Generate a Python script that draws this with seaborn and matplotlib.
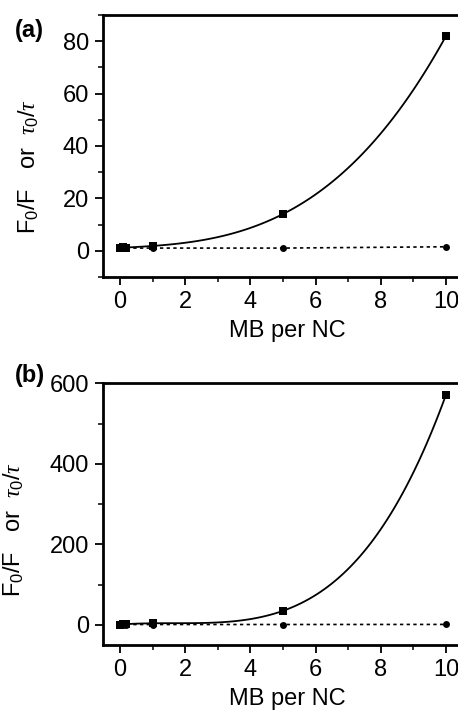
import matplotlib
matplotlib.use("Agg")
import matplotlib.pyplot as plt
import numpy as np
import seaborn as sns
from matplotlib.ticker import MultipleLocator

# --- data ---
mb_per_nc = [0, 0.1, 0.2, 1, 5, 10]

# panel (a): F0/F (squares, fitted line) and tau0/tau (circles, dotted)
a_f0f = [1.0, 1.3, 1.2, 1.8, 14.0, 82.0]
a_tau = [1.0, 1.0, 1.0, 1.0, 1.0, 1.5]

# panel (b)
b_f0f = [1.0, 1.5, 2.0, 4.0, 35.0, 572.0]
b_tau = [1.0, 1.0, 1.0, 1.0, 1.0, 1.2]

sns.set_style("ticks")
plt.rcParams['font.family'] = ['Liberation Sans', 'DejaVu Sans']
plt.rcParams['mathtext.fontset'] = 'custom'
plt.rcParams['mathtext.rm'] = 'Liberation Sans'
plt.rcParams['mathtext.it'] = 'Liberation Serif:italic'
for key in ['text.color', 'axes.labelcolor', 'xtick.color', 'ytick.color', 'axes.edgecolor']:
    plt.rcParams[key] = 'black'

fig = plt.figure(figsize=(4.58, 7.10), dpi=100)
ax_a = fig.add_axes([0.2249, 0.610, 0.806, 0.369])
ax_b = fig.add_axes([0.2249, 0.0915, 0.806, 0.3686])

panels = [
    (ax_a, a_f0f, a_tau, 3, (-10, 90), 20, 10, '(a)', -0.169, 0.42, 0.94),
    (ax_b, b_f0f, b_tau, 4, (-50, 600), 200, 100, '(b)', -0.208, 0.44, 1.03),
]

for ax, f0f, tau, order, ylim, major, minor, tag, lx, ly, ty in panels:
    sns.regplot(x=mb_per_nc, y=f0f, order=order, ci=None, scatter=False, ax=ax,
                line_kws=dict(color='black', lw=1.3))
    sns.lineplot(x=mb_per_nc, y=tau, ax=ax, color='black', lw=1.2, linestyle=(0, (2, 2)),
                 marker='o', markersize=5, markeredgewidth=0)
    sns.scatterplot(x=mb_per_nc, y=f0f, ax=ax, color='black', marker='s', s=36,
                    linewidth=0, zorder=5)

    ax.set_xlim(-0.52, 10.8)
    ax.set_ylim(*ylim)
    ax.xaxis.set_major_locator(MultipleLocator(2))
    ax.xaxis.set_minor_locator(MultipleLocator(1))
    ax.yaxis.set_major_locator(MultipleLocator(major))
    ax.yaxis.set_minor_locator(MultipleLocator(minor))
    ax.tick_params(which='major', direction='out', length=6, width=1.3, labelsize=17, pad=4)
    ax.tick_params(which='minor', direction='out', length=3.5, width=1.1)
    for sp in ax.spines.values():
        sp.set_linewidth(2)
        sp.set_visible(True)

    ax.set_xlabel('MB per NC', fontsize=17, labelpad=5)
    ax.set_ylabel(r'F$_0$/F   or  $\tau_0/\tau$', fontsize=17)
    ax.yaxis.set_label_coords(lx, ly)
    ax.text(-0.24, ty, tag, transform=ax.transAxes, fontsize=17, fontweight='bold',
            va='center', ha='left')

fig.savefig('out.png', dpi=100)
